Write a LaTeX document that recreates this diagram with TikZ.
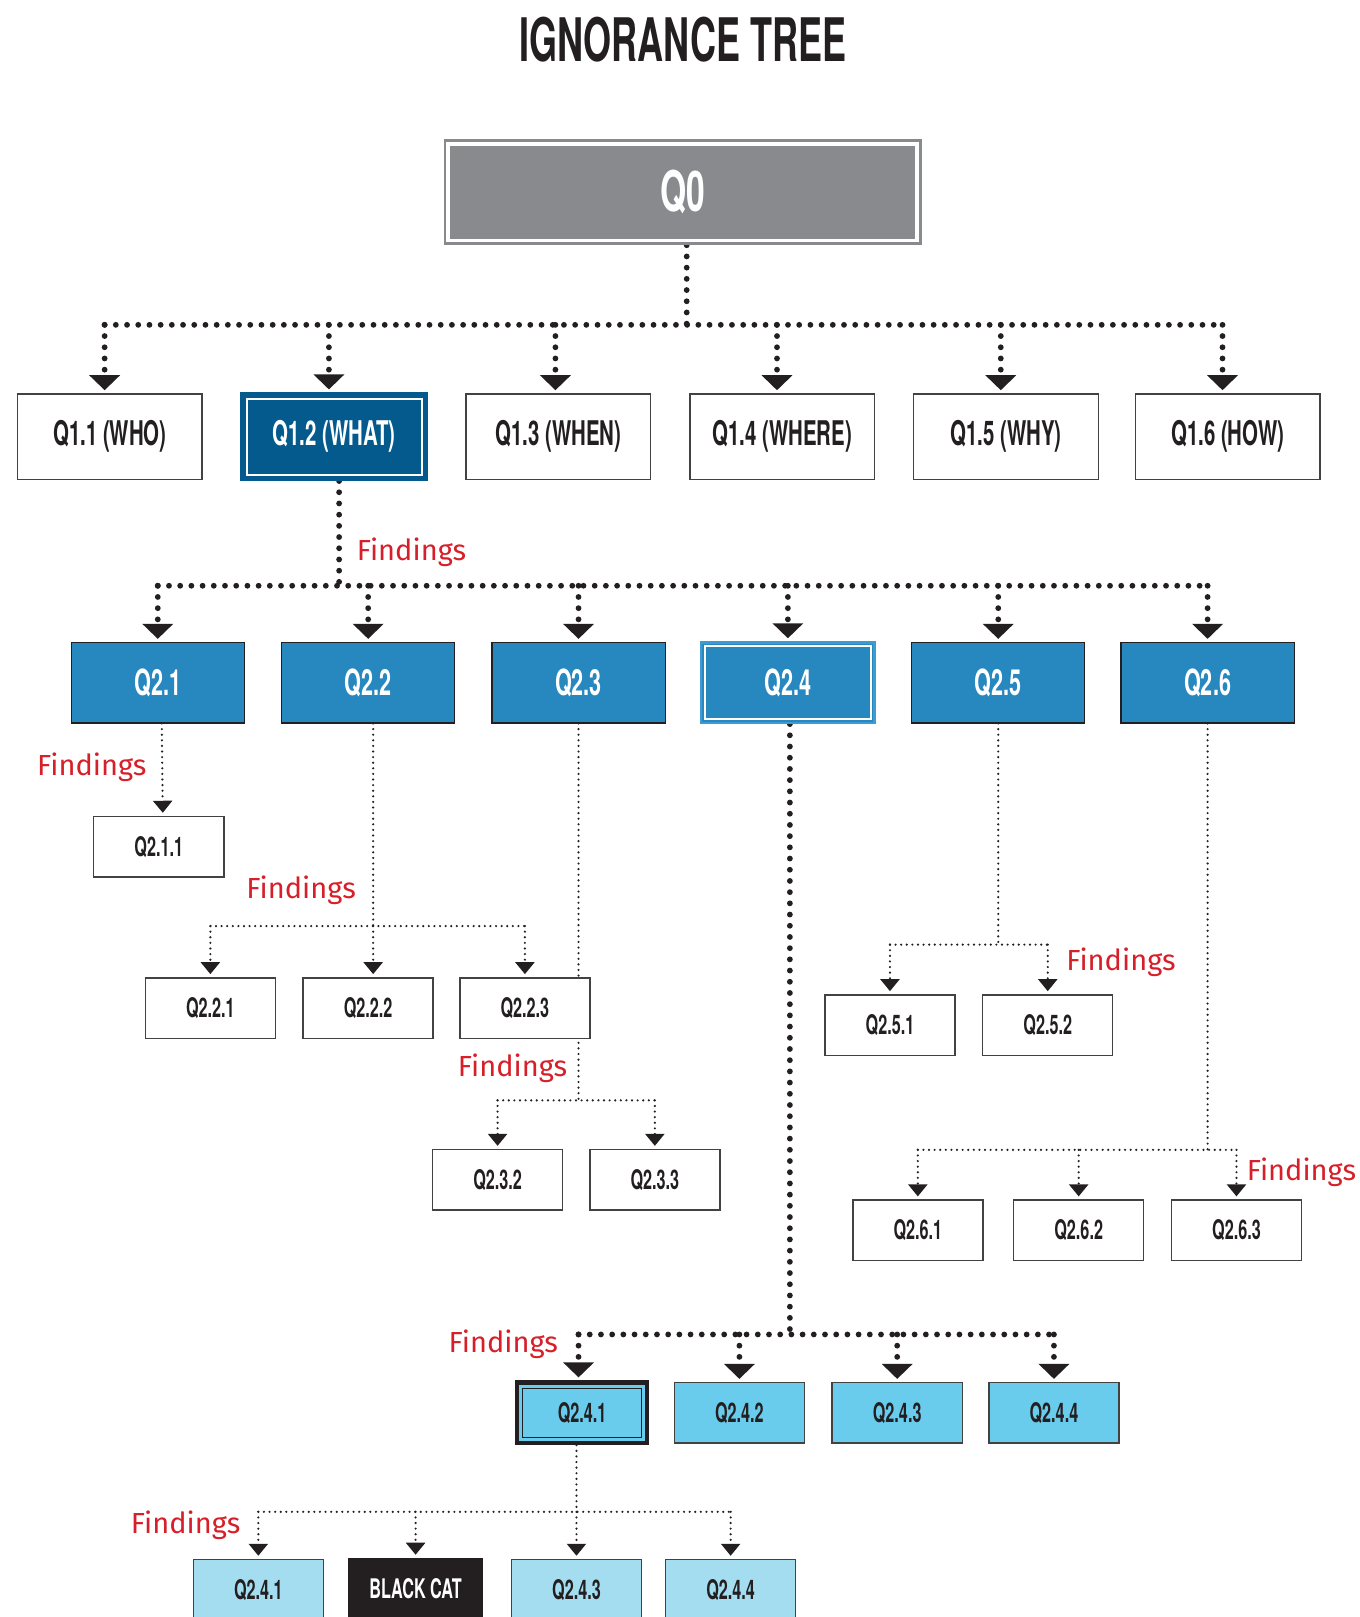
\documentclass[tikz,border=0pt]{standalone}
\usepackage{fontspec}
\setmainfont{TeX Gyre Heros}
\newfontfamily\condfont[FakeStretch=0.6]{TeX Gyre Heros}
\newfontfamily\findfont{Fira Sans}
\usetikzlibrary{arrows.meta, positioning, calc}
\definecolor{qgray}{HTML}{898A8E}
\definecolor{whatblue}{HTML}{045A8C}
\definecolor{qblue}{HTML}{2787BF}
\definecolor{qblueline}{HTML}{3D9BD3}
\definecolor{qcyan}{HTML}{69CCEC}
\definecolor{qpale}{HTML}{A4DDF0}
\definecolor{findred}{HTML}{D71F2A}
\definecolor{inkblack}{HTML}{231F20}
\pgfdeclarelayer{background}
\pgfsetlayers{background,main}
\tikzset{inset/.style n args={3}{path picture={\draw[#1, line width=#3] ([shift={(#2,#2)}]path picture bounding box.south west) rectangle ([shift={(-#2,-#2)}]path picture bounding box.north east);}}}

\begin{document}
\begin{tikzpicture}[x=0.5155pt, y=-0.5155pt]
			\tikzstyle{qbox}=[rectangle, inner sep=0pt, text=inkblack, font=\condfont\bfseries\fontsize{17}{17}\selectfont]
			\tikzstyle{qone}=[qbox, draw=inkblack!85, line width=0.7pt, fill=white, minimum width=92.3pt, minimum height=42.8pt]
			\tikzstyle{qtwo}=[qbox, draw=inkblack, line width=0.6pt, fill=qblue, text=white, minimum width=86.6pt, minimum height=40.2pt, font=\condfont\bfseries\fontsize{18}{18}\selectfont]
			\tikzstyle{qsmall}=[qbox, draw=inkblack!85, line width=0.7pt, fill=white, minimum width=65pt, minimum height=30.2pt, font=\condfont\bfseries\fontsize{13.5}{13.5}\selectfont]
			\tikzstyle{findings}=[text=findred, font=\findfont\fontsize{14.5}{14.5}\selectfont]
			\tikzstyle{bigdots}=[draw=inkblack, line width=2.9pt, line cap=round, dash pattern=on 0pt off 5.6pt]
			\tikzstyle{thindots}=[draw=inkblack, line width=1.2pt, line cap=round, dash pattern=on 0pt off 2.8pt]
			\tikzstyle{bigtip}=[-{Triangle[width=15pt,length=7.5pt]}, shorten >=1.5pt]
			\tikzstyle{smalltip}=[-{Triangle[width=9.5pt,length=6pt]}, shorten >=1.5pt]
			%%
			\useasboundingbox (0,0) rectangle (1318,1568);
			\node (title) at (662,38) [text=inkblack, font=\condfont\bfseries\fontsize{30}{30}\selectfont] {IGNORANCE TREE};
			
			\node (q0) at (662,186.5) [qbox, fill=qgray, draw=qgray, line width=1.4pt, text=white, minimum width=237.6pt, minimum height=51.5pt, inset={white}{1.6pt}{1.8pt}, font=\condfont\bfseries\fontsize{28}{28}\selectfont] {Q0};
			
			%% first level
			\node (q11) at (106.5,423.5) [qone] {Q1.1 (WHO)};
			\node (q12) at (324,423.5) [qone, fill=whatblue, draw=whatblue, line width=1.5pt, text=white, inset={white}{2.4pt}{1pt}] {Q1.2 (WHAT)};
			\node (q13) at (541.5,423.5) [qone] {Q1.3 (WHEN)};
			\node (q14) at (758.5,423.5) [qone] {Q1.4 (WHERE)};
			\node (q15) at (975.5,423.5) [qone] {Q1.5 (WHY)};
			\node (q16) at (1190.5,423.5) [qone] {Q1.6 (HOW)};
			
			%% second level
			\node (q21) at (153,662) [qtwo] {Q2.1};
			\node (q22) at (357,662) [qtwo] {Q2.2};
			\node (q23) at (561,662) [qtwo] {Q2.3};
			\node (q24) at (764,662) [qtwo, draw=qblueline, line width=1.2pt, inset={white}{2pt}{1pt}] {Q2.4};
			\node (q25) at (968,662) [qtwo] {Q2.5};
			\node (q26) at (1171,662) [qtwo] {Q2.6};
			
			%% third level
			\node (q211) at (154,821) [qsmall] {Q2.1.1};
			\node (q221) at (204,977.5) [qsmall] {Q2.2.1};
			\node (q222) at (357,977.5) [qsmall] {Q2.2.2};
			\node (q223) at (509,977.5) [qsmall] {Q2.2.3};
			\node (q232) at (482.5,1144) [qsmall] {Q2.3.2};
			\node (q233) at (635,1144) [qsmall] {Q2.3.3};
			\node (q251) at (863,994) [qsmall] {Q2.5.1};
			\node (q252) at (1016,994) [qsmall] {Q2.5.2};
			\node (q261) at (890,1193) [qsmall] {Q2.6.1};
			\node (q262) at (1046,1193) [qsmall] {Q2.6.2};
			\node (q263) at (1199,1193) [qsmall] {Q2.6.3};
			\node (q241) at (564.5,1370) [qsmall, fill=qcyan, draw=inkblack, line width=2.2pt, inset={inkblack}{2.8pt}{0.7pt}] {Q2.4.1};
			\node (q242) at (717,1370) [qsmall, fill=qcyan] {Q2.4.2};
			\node (q243) at (870,1370) [qsmall, fill=qcyan] {Q2.4.3};
			\node (q244) at (1022,1370) [qsmall, fill=qcyan] {Q2.4.4};
			
			%% fourth level
			\node (k1) at (250.5,1541.5) [qsmall, fill=qpale] {Q2.4.1};
			\node (kcat) at (403,1540.5) [qsmall, fill=inkblack, draw=inkblack, text=white, minimum width=67pt] {BLACK CAT};
			\node (k3) at (559,1541.5) [qsmall, fill=qpale] {Q2.4.3};
			\node (k4) at (708.5,1541.5) [qsmall, fill=qpale] {Q2.4.4};
			
			%% findings labels
			\node (f12) at (399,536) [findings] {Findings};
			\node (f21) at (89,744) [findings] {Findings};
			\node (f22) at (292,863) [findings] {Findings};
			\node (f23) at (497,1036) [findings] {Findings};
			\node (f25) at (1087,933) [findings] {Findings};
			\node (f26) at (1262,1137) [findings] {Findings};
			\node (f24) at (488,1304) [findings] {Findings};
			\node (f241) at (180,1479) [findings] {Findings};
			
			\coordinate (bus0) at (0,315);
			\coordinate (bus1) at (0,568);
			\coordinate (bus22) at (0,898);
			\coordinate (bus23) at (0,1067);
			\coordinate (bus24) at (0,1294);
			\coordinate (bus25) at (0,916);
			\coordinate (bus26) at (0,1115);
			\coordinate (bus241) at (0,1466);
			
			\begin{pgfonlayer}{background}
			\fill[white] (0,0) rectangle (1318,1568);
			
			\draw[bigdots] ([xshift=2pt]q0.south) -- ([xshift=2pt]q0.south |- bus0);
			\draw[bigdots] ([xshift=-2.6pt]q11.north |- bus0) -- ([xshift=-2.6pt]q16.north |- bus0);
			\draw[bigdots, bigtip] ([xshift=-2.6pt]q11.north |- bus0) -- ([xshift=-2.6pt]q11.north);
			\draw[bigdots, bigtip] ([xshift=-2.6pt]q12.north |- bus0) -- ([xshift=-2.6pt]q12.north);
			\draw[bigdots, bigtip] ([xshift=-1.5pt]q13.north |- bus0) -- ([xshift=-1.5pt]q13.north);
			\draw[bigdots, bigtip] ([xshift=-2.6pt]q14.north |- bus0) -- ([xshift=-2.6pt]q14.north);
			\draw[bigdots, bigtip] ([xshift=-2.6pt]q15.north |- bus0) -- ([xshift=-2.6pt]q15.north);
			\draw[bigdots, bigtip] ([xshift=-2.6pt]q16.north |- bus0) -- ([xshift=-2.6pt]q16.north);
			
			\draw[bigdots] ([xshift=2.5pt]q12.south) -- ([xshift=2.5pt]q12.south |- bus1);
			\draw[bigdots] (q21.north |- bus1) -- (q26.north |- bus1);
			\draw[bigdots, bigtip] (q21.north |- bus1) -- (q21.north);
			\draw[bigdots, bigtip] (q22.north |- bus1) -- (q22.north);
			\draw[bigdots, bigtip] (q23.north |- bus1) -- (q23.north);
			\draw[bigdots, bigtip] (q24.north |- bus1) -- (q24.north);
			\draw[bigdots, bigtip] (q25.north |- bus1) -- (q25.north);
			\draw[bigdots, bigtip] (q26.north |- bus1) -- (q26.north);
			
			\draw[thindots, smalltip] ([xshift=2pt]q21.south) -- ([xshift=2pt]q211.north);
			
			\draw[thindots] ([xshift=2.5pt]q22.south) -- ([xshift=2.5pt]q22.south |- bus22);
			\draw[thindots] (q221.north |- bus22) -- (q223.north |- bus22);
			\draw[thindots, smalltip] (q221.north |- bus22) -- (q221.north);
			\draw[thindots, smalltip] ([xshift=2.5pt]q222.north |- bus22) -- ([xshift=2.5pt]q222.north);
			\draw[thindots, smalltip] (q223.north |- bus22) -- (q223.north);
			
			\draw[thindots] (q23.south) -- (q23.south |- bus23);
			\draw[thindots] (q232.north |- bus23) -- (q233.north |- bus23);
			\draw[thindots, smalltip] (q232.north |- bus23) -- (q232.north);
			\draw[thindots, smalltip] (q233.north |- bus23) -- (q233.north);
			
			\draw[bigdots] ([xshift=1pt]q24.south) -- ([xshift=1pt]q24.south |- bus24);
			\draw[bigdots] ([xshift=-1.8pt]q241.north |- bus24) -- (q244.north |- bus24);
			\draw[bigdots, bigtip] ([xshift=-1.8pt]q241.north |- bus24) -- ([xshift=-1.8pt]q241.north);
			\draw[bigdots, bigtip] (q242.north |- bus24) -- (q242.north);
			\draw[bigdots, bigtip] (q243.north |- bus24) -- (q243.north);
			\draw[bigdots, bigtip] (q244.north |- bus24) -- (q244.north);
			
			\draw[thindots] (q25.south) -- (q25.south |- bus25);
			\draw[thindots] (q251.north |- bus25) -- (q252.north |- bus25);
			\draw[thindots, smalltip] (q251.north |- bus25) -- (q251.north);
			\draw[thindots, smalltip] (q252.north |- bus25) -- (q252.north);
			
			\draw[thindots] (q26.south) -- (q26.south |- bus26);
			\draw[thindots] (q261.north |- bus26) -- (q263.north |- bus26);
			\draw[thindots, smalltip] (q261.north |- bus26) -- (q261.north);
			\draw[thindots, smalltip] (q262.north |- bus26) -- (q262.north);
			\draw[thindots, smalltip] (q263.north |- bus26) -- (q263.north);
			
			\draw[thindots] (k3.north |- q241.south) -- (k3.north |- bus241);
			\draw[thindots] (k1.north |- bus241) -- (k4.north |- bus241);
			\draw[thindots, smalltip] (k1.north |- bus241) -- (k1.north);
			\draw[thindots, smalltip] (kcat.north |- bus241) -- (kcat.north);
			\draw[thindots, smalltip] (k3.north |- bus241) -- (k3.north);
			\draw[thindots, smalltip] (k4.north |- bus241) -- (k4.north);
			\end{pgfonlayer}
\end{tikzpicture}
\end{document}
